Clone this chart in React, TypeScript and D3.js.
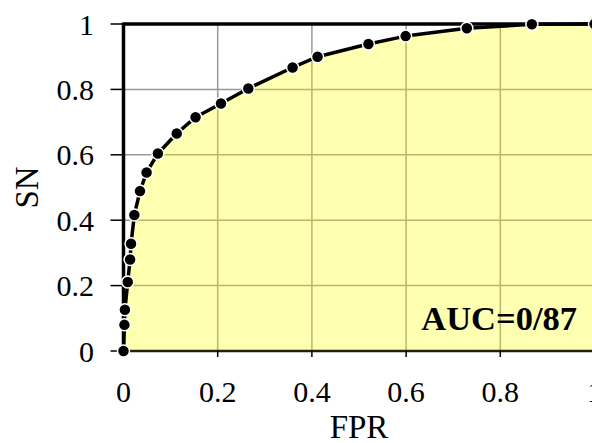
import React, { useRef, useEffect } from "react";
import * as d3 from "d3";

const fprValues = [0, 0.002, 0.003, 0.009, 0.014, 0.016, 0.023, 0.035, 0.049, 0.073, 0.113, 0.153, 0.207, 0.265, 0.359, 0.412, 0.52, 0.599, 0.729, 0.867, 1];
const snValues = [0, 0.08, 0.126, 0.211, 0.28, 0.328, 0.416, 0.489, 0.546, 0.604, 0.665, 0.715, 0.757, 0.803, 0.867, 0.9, 0.939, 0.963, 0.987, 0.999, 1];
const tickValues = [0, 0.2, 0.4, 0.6, 0.8, 1];
const tickLabels = ["0", "0.2", "0.4", "0.6", "0.8", "1"];
const aucLabel = "AUC=0/87";

const RocChart = () => {
  const chartRef = useRef<SVGSVGElement | null>(null);

  useEffect(() => {
    const width = 592;
    const height = 443;
    const margin = { top: 24, right: -2.5, bottom: 92, left: 123.5 };
    const font = "'Liberation Serif', 'Times New Roman', serif";

    const svg = d3.select(chartRef.current);
    svg.selectAll("*").remove();

    const data = fprValues.map((f, i) => ({ fpr: f, sn: snValues[i] }));

    const x = d3
      .scaleLinear()
      .domain([0, 1])
      .range([margin.left, width - margin.right]);
    const y = d3
      .scaleLinear()
      .domain([0, 1])
      .range([height - margin.bottom, margin.top]);

    // grid
    const grid = svg.append("g").attr("stroke", "#999").attr("stroke-width", 1.5);
    grid
      .selectAll("line.v")
      .data(tickValues.slice(1, -1))
      .join("line")
      .attr("x1", (d) => x(d))
      .attr("x2", (d) => x(d))
      .attr("y1", y(0))
      .attr("y2", y(1));
    grid
      .selectAll("line.h")
      .data(tickValues.slice(1, -1))
      .join("line")
      .attr("x1", x(0))
      .attr("x2", x(1))
      .attr("y1", (d) => y(d))
      .attr("y2", (d) => y(d));

    // area under the curve
    const area = d3
      .area<{ fpr: number; sn: number }>()
      .x((d) => x(d.fpr))
      .y0(y(0))
      .y1((d) => y(d.sn));
    svg
      .append("path")
      .datum(data)
      .attr("d", area)
      .attr("fill", "#ffff00")
      .attr("fill-opacity", 0.3);

    // frame
    svg
      .append("line")
      .attr("x1", x(0))
      .attr("x2", x(1))
      .attr("y1", y(1))
      .attr("y2", y(1))
      .attr("stroke", "#000")
      .attr("stroke-width", 3.5);
    svg
      .append("line")
      .attr("x1", x(0))
      .attr("x2", x(1))
      .attr("y1", y(0))
      .attr("y2", y(0))
      .attr("stroke", "#222200")
      .attr("stroke-width", 2.5);
    svg
      .append("line")
      .attr("x1", x(0))
      .attr("x2", x(0))
      .attr("y1", y(1) - 1.5)
      .attr("y2", y(0))
      .attr("stroke", "#000")
      .attr("stroke-width", 3.5);

    // y ticks
    const yAxis = svg.append("g");
    yAxis
      .selectAll("line")
      .data(tickValues)
      .join("line")
      .attr("x1", x(0) - 13)
      .attr("x2", x(0))
      .attr("y1", (d) => y(d))
      .attr("y2", (d) => y(d))
      .attr("stroke", "#000")
      .attr("stroke-width", 1.5);
    yAxis
      .selectAll("text")
      .data(tickValues)
      .join("text")
      .attr("x", 94)
      .attr("y", (d) => y(d))
      .attr("dy", "0.35em")
      .attr("text-anchor", "end")
      .attr("font-family", font)
      .attr("font-size", 30)
      .text((d, i) => tickLabels[i]);

    // x ticks
    const xAxis = svg.append("g");
    xAxis
      .selectAll("line")
      .data(tickValues)
      .join("line")
      .attr("x1", (d) => x(d))
      .attr("x2", (d) => x(d))
      .attr("y1", y(0))
      .attr("y2", y(0) + 6)
      .attr("stroke", "#000")
      .attr("stroke-width", 1.5);
    xAxis
      .selectAll("text")
      .data(tickValues)
      .join("text")
      .attr("x", (d) => x(d))
      .attr("y", 402)
      .attr("text-anchor", "middle")
      .attr("font-family", font)
      .attr("font-size", 30)
      .text((d, i) => tickLabels[i]);

    // curve
    const line = d3
      .line<{ fpr: number; sn: number }>()
      .x((d) => x(d.fpr))
      .y((d) => y(d.sn));
    svg
      .append("path")
      .datum(data)
      .attr("d", line)
      .attr("fill", "none")
      .attr("stroke", "#000")
      .attr("stroke-width", 3.5)
      .attr("stroke-linejoin", "round");

    svg
      .append("g")
      .selectAll("circle")
      .data(data)
      .join("circle")
      .attr("cx", (d) => x(d.fpr))
      .attr("cy", (d) => y(d.sn))
      .attr("r", 6)
      .attr("fill", "#000")
      .attr("stroke", "#fff")
      .attr("stroke-width", 1.5);

    // titles
    svg
      .append("text")
      .attr("x", (x(0) + x(1)) / 2)
      .attr("y", 438)
      .attr("text-anchor", "middle")
      .attr("font-family", font)
      .attr("font-size", 33)
      .text("FPR");

    svg
      .append("text")
      .attr("transform", `translate(38,${(y(0) + y(1)) / 2}) rotate(-90)`)
      .attr("text-anchor", "middle")
      .attr("font-family", font)
      .attr("font-size", 33)
      .text("SN");

    svg
      .append("text")
      .attr("x", 577)
      .attr("y", 330)
      .attr("text-anchor", "end")
      .attr("font-family", font)
      .attr("font-size", 34.5)
      .attr("font-weight", "bold")
      .text(aucLabel);
  }, []);

  return (
    <div style={{ position: "absolute", left: 0, top: 0 }}>
      <svg ref={chartRef} width={592} height={443} style={{ display: "block", background: "#fff" }}></svg>
    </div>
  );
};

export default function App() {
  return <RocChart />;
}
